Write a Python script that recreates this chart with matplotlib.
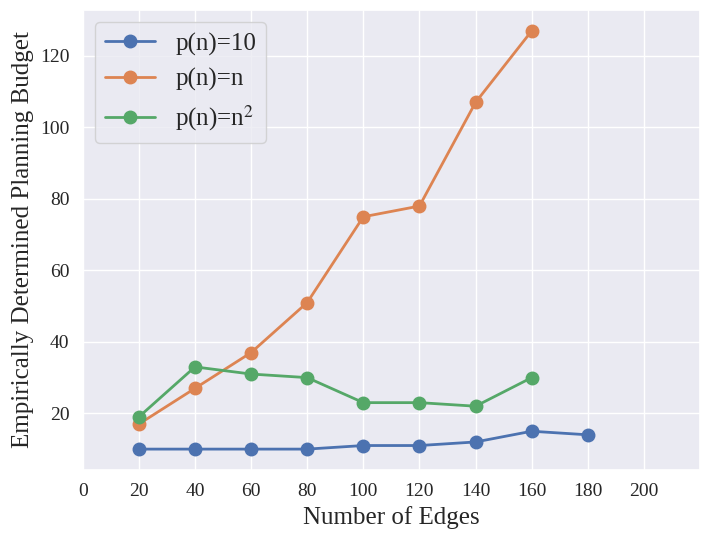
import matplotlib
matplotlib.use("Agg")
import matplotlib.pyplot as plt
import seaborn as sns

edges_const = [20, 40, 60, 80, 100, 120, 140, 160, 180]
budget_const = [10, 10, 10, 10, 11, 11, 12, 15, 14]

edges_lin = [20, 40, 60, 80, 100, 120, 140, 160]
budget_lin = [17, 27, 37, 51, 75, 78, 107, 127]

edges_sq = [20, 40, 60, 80, 100, 120, 140, 160]
budget_sq = [19, 33, 31, 30, 23, 23, 22, 30]

x_ticks = [0, 20, 40, 60, 80, 100, 120, 140, 160, 180, 200]

sns.set_theme(style="darkgrid")
plt.rcParams['font.family'] = ['Liberation Serif', 'DejaVu Serif']
plt.rcParams['mathtext.fontset'] = 'stix'

fig, ax = plt.subplots(figsize=(7.1, 5.4), dpi=100)
fig.subplots_adjust(left=0.1165, right=0.986, top=0.9815, bottom=0.1296)

ax.plot(edges_const, budget_const, marker='o', markersize=9, linewidth=2, label="p(n)=10")
ax.plot(edges_lin, budget_lin, marker='o', markersize=9, linewidth=2, label="p(n)=n")
ax.plot(edges_sq, budget_sq, marker='o', markersize=9, linewidth=2, label="p(n)=n$^2$")

ax.set_xlim(0, 220)
ax.set_xticks(x_ticks)
ax.tick_params(labelsize=14)
ax.set_xlabel("Number of Edges", fontsize=18)
ax.set_ylabel("Empirically Determined Planning Budget", fontsize=18)
ax.legend(fontsize=18, loc='upper left')

fig.savefig("out.png")
